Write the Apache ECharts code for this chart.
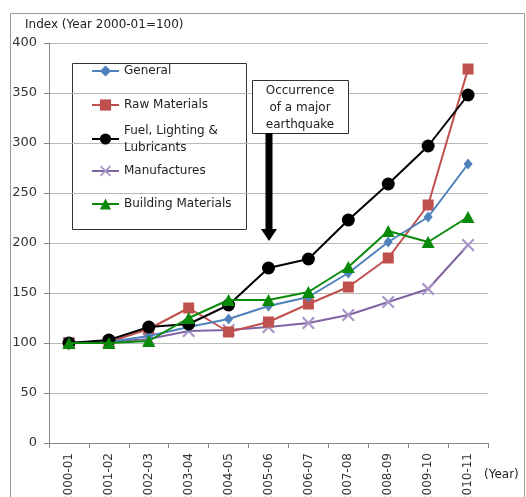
<!DOCTYPE html>
<html><head><meta charset="utf-8">
<script src="https://cdn.jsdelivr.net/npm/echarts@6/dist/echarts.min.js"></script>
<style>html,body{margin:0;padding:0;background:#fff}#c{width:526px;height:497px}</style>
</head><body><div id="c"></div>
<script>
const categories = ['2000-01','2001-02','2002-03','2003-04','2004-05','2005-06','2006-07','2007-08','2008-09','2009-10','2010-11'];
const general = [100,101,107,116,124,137,146,170,201,226,279];
const rawMaterials = [100,101,114,135,111,121,139,156,185,238,374];
const fuel = [100,103,116,119,138,175,184,223,259,297,348];
const manufactures = [100,101,104,112,113,116,120,128,141,154,198];
const building = [100,100,102,125,143,143,151,176,212,201,226];
const yTicks = [0,50,100,150,200,250,300,350,400];

const FONT = 'DejaVu Sans';
const xPath = 'path://M0,1.2L1.2,0L5,3.8L8.8,0L10,1.2L6.2,5L10,8.8L8.8,10L5,6.2L1.2,10L0,8.8L3.8,5Z';

const chart = echarts.init(document.getElementById('c'), null, {renderer:'canvas'});
function lg(name, cy, extra) {
  return Object.assign({
    data:[name], orient:'vertical', left:91, top:cy-7, padding:0,
    itemWidth:27, itemHeight:14, selectedMode:false,
    textStyle:{fontFamily:FONT, fontSize:12, color:'#222'}
  }, extra || {});
}
chart.setOption({
  animation:false,
  grid:{left:49, right:38, top:43, bottom:54, containLabel:false, outerBoundsMode:'none'},
  legend:[
    lg('General',72),
    lg('Raw Materials',106),
    Object.assign(lg('Fuel, Lighting &\nLubricants',139), {top:139-25.5,
      textStyle:{fontFamily:FONT, fontSize:12, color:'#222', lineHeight:17, padding:[17,0,0,0]}}),
    lg('Manufactures',172),
    lg('Building Materials',205)
  ],
  xAxis:{type:'category', data:categories, boundaryGap:true,
    axisLine:{lineStyle:{color:'#888', width:1}},
    axisTick:{show:true, length:5, lineStyle:{color:'#888'}},
    axisLabel:{rotate:90, fontFamily:FONT, fontSize:12, color:'#333', margin:10}},
  yAxis:{type:'value', min:yTicks[0], max:yTicks[yTicks.length-1], interval:50,
    axisLine:{show:true, lineStyle:{color:'#888'}},
    axisTick:{show:true, length:5, lineStyle:{color:'#888'}},
    splitLine:{lineStyle:{color:'#b8b8b8', width:1}},
    axisLabel:{fontFamily:FONT, fontSize:13, color:'#333', margin:12}},
  series:[
    {name:'General', type:'line', data:general, symbol:'diamond', symbolSize:[9,11],
      itemStyle:{color:'#4F81BD'}, lineStyle:{color:'#4F81BD', width:2}, z:3},
    {name:'Raw Materials', type:'line', data:rawMaterials, symbol:'rect', symbolSize:11,
      itemStyle:{color:'#C0504D'}, lineStyle:{color:'#C0504D', width:2}, z:2},
    {name:'Fuel, Lighting &\nLubricants', type:'line', data:fuel, symbol:'circle', symbolSize:13,
      itemStyle:{color:'#000'}, lineStyle:{color:'#000', width:2}, z:4},
    {name:'Manufactures', type:'line', data:manufactures, symbol:xPath, symbolSize:13,
      itemStyle:{color:'#a896c6'}, lineStyle:{color:'#8064A2', width:2}, z:1},
    {name:'Building Materials', type:'line', data:building, symbol:'triangle', symbolSize:[13,12],
      itemStyle:{color:'#0a8a0a'}, lineStyle:{color:'#0a8a0a', width:2}, z:5}
  ],
  graphic:[
    {type:'rect', left:8, top:11, shape:{width:514, height:500},
      style:{fill:'none', stroke:'#999', lineWidth:1}, silent:true, z:-10},
    {type:'rect', left:72, top:63, shape:{width:174, height:166},
      style:{fill:'#fff', stroke:'#333', lineWidth:1}, z:-1},
    {type:'text', x:25, y:19, style:{text:'Index (Year 2000-01=100)', font:'12px '+FONT, fill:'#222'}},
    {type:'text', x:484, y:469, style:{text:'(Year)', font:'12px '+FONT, fill:'#222'}},
    {type:'rect', left:252, top:80, shape:{width:96, height:53},
      style:{fill:'#fff', stroke:'#333', lineWidth:1}, z:10},
    {type:'text', x:300, y:82, z:11,
      style:{text:'Occurrence\nof a major\nearthquake', font:'12px '+FONT, fill:'#222', align:'center', verticalAlign:'top', lineHeight:17}},
    {type:'polygon', z:10, shape:{points:[[265.5,133],[272.5,133],[272.5,229],[277,229],[269,241],[261,229],[265.5,229]]},
      style:{fill:'#000'}}
  ]
});
</script></body></html>
